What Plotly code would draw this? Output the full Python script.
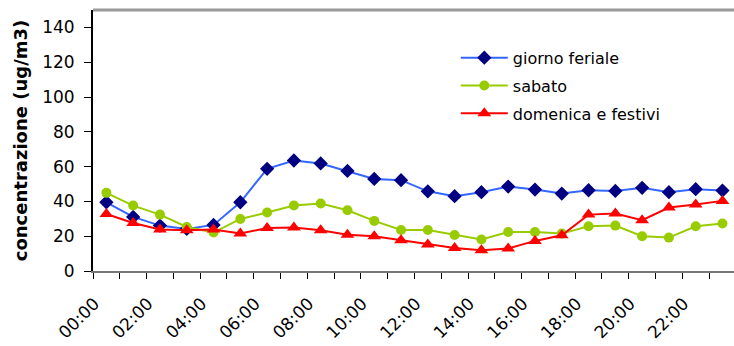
import plotly.graph_objects as go

# Hourly concentration profiles by type of day
hours = [f"{h:02d}:00" for h in range(24)]

giorno_feriale = [39.5, 31.1, 26.1, 24.2, 26.5, 39.5, 58.7, 63.5, 61.8, 57.5, 52.9, 52.2,
                  45.8, 43.0, 45.3, 48.5, 46.8, 44.5, 46.4, 46.0, 47.8, 45.3, 47.0, 46.2]
sabato = [44.9, 37.6, 32.4, 25.3, 22.1, 29.9, 33.6, 37.6, 38.8, 34.9, 28.8, 23.6,
          23.6, 20.7, 18.1, 22.4, 22.4, 21.5, 25.7, 26.1, 20.0, 19.2, 25.7, 27.3]
domenica_festivi = [32.8, 27.6, 23.8, 23.4, 23.8, 21.5, 24.7, 25.0, 23.4, 20.9, 20.0, 17.7,
                    15.2, 13.2, 11.9, 12.9, 17.3, 20.5, 32.4, 33.0, 29.2, 36.5, 38.2, 40.3]

y_ticks = [0, 20, 40, 60, 80, 100, 120, 140]
x_label_idx = list(range(0, 24, 2))

FONT = "DejaVu Sans"
x = list(range(24))

fig = go.Figure()
fig.add_trace(go.Scatter(
    x=x, y=giorno_feriale, name="giorno feriale", mode="lines+markers",
    line=dict(color="#3366FF", width=2),
    marker=dict(symbol="diamond", size=11, color="#000080"),
    legendgroup="a"))
fig.add_trace(go.Scatter(
    x=x, y=sabato, name="sabato", mode="lines+markers",
    line=dict(color="#99CC00", width=2),
    marker=dict(symbol="circle", size=10, color="#99CC00"),
    legendgroup="b"))
fig.add_trace(go.Scatter(
    x=x, y=domenica_festivi, name="domenica e festivi", mode="lines+markers",
    line=dict(color="#FF0000", width=2),
    marker=dict(symbol="triangle-up", size=12, color="#FF0000"),
    legendgroup="c"))

# top frame line of the plot area
fig.add_shape(type="line", xref="paper", yref="paper", x0=0, x1=1, y0=1, y1=1,
              line=dict(color="#999999", width=3))

fig.update_layout(
    width=734, height=346,
    margin=dict(l=93, r=0, t=10, b=75),
    paper_bgcolor="white", plot_bgcolor="white",
    font=dict(family=FONT, size=17, color="black"),
    showlegend=True,
    legend=dict(x=0.566, y=0.882, xanchor="left", yanchor="top",
                bgcolor="rgba(0,0,0,0)", font=dict(size=16),
                tracegroupgap=4, itemwidth=47),
    xaxis=dict(
        range=[-0.5, 23.43],
        tickmode="array", tickvals=x_label_idx,
        ticktext=[hours[i] for i in x_label_idx],
        tickangle=-45, ticks="",
        ticklabelstandoff=14, ticklabelshift=-12,
        showgrid=False, zeroline=False,
        showline=True, linecolor="#777777", linewidth=2,
        minor=dict(tickmode="array", tickvals=[i - 0.5 for i in range(25)],
                   ticks="outside", ticklen=6, tickcolor="black", tickwidth=1,
                   showgrid=False),
        tickfont=dict(size=17),
    ),
    yaxis=dict(
        range=[0, 150],
        tickmode="array", tickvals=y_ticks,
        ticks="outside", ticklen=7, tickcolor="black",
        ticklabelstandoff=6,
        showgrid=False, zeroline=False,
        showline=True, linecolor="black", linewidth=2,
        tickfont=dict(size=17),
        title=dict(text="<b>concentrazione (ug/m3)</b>", font=dict(size=18), standoff=10),
    ),
)

fig.write_html("out.html")
